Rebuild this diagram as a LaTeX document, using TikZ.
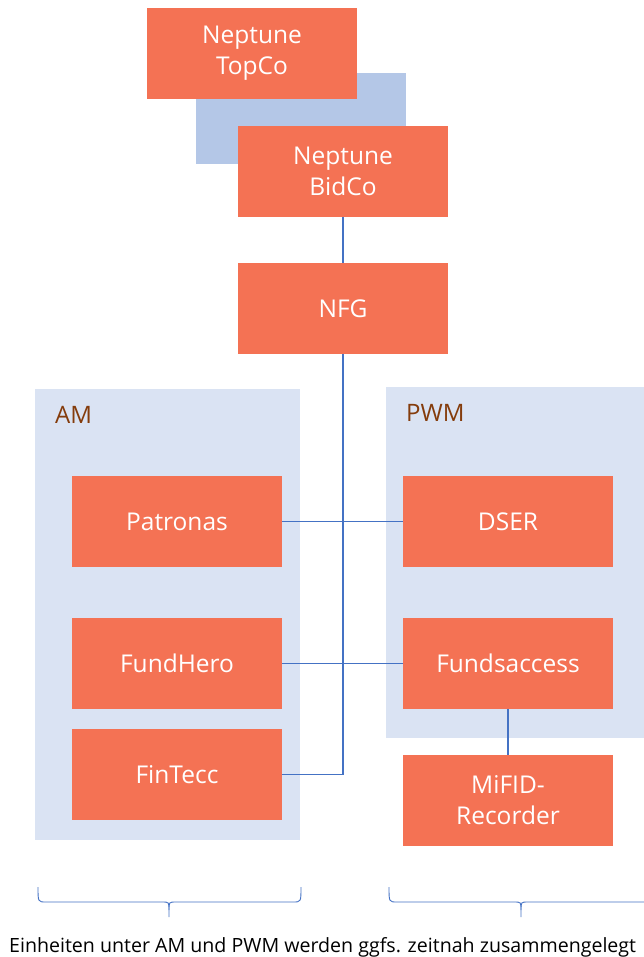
\documentclass[tikz,border=0pt]{standalone}
\usepackage{fontspec}
\setmainfont{Open Sans}
\usepackage{tikz}

\definecolor{boxorange}{HTML}{F47254}
\definecolor{groupblue}{HTML}{DAE3F3}
\definecolor{backblue}{HTML}{B4C7E7}
\definecolor{linkblue}{HTML}{4472C4}
\definecolor{labelbrown}{HTML}{843C0C}

\tikzset{
	unit/.style={fill=boxorange, text=white, minimum width=210pt, minimum height=91pt,
		inner sep=0pt, align=center, font=\fontsize{24.5}{31}\selectfont},
	group/.style={fill=groupblue, inner sep=0pt},
	grouplabel/.style={text=labelbrown, anchor=base west, inner sep=0pt,
		font=\fontsize{24}{28}\selectfont},
	link/.style={draw=linkblue, line width=1.2pt},
	bracket/.style={draw=linkblue, line width=0.9pt}
}

\begin{document}
\begin{tikzpicture}[x=1pt, y=-1pt]
	\useasboundingbox (0,0) rectangle (644,957);
	
	% holding structure at the top
	\node[fill=backblue, minimum width=210pt, minimum height=91pt, inner sep=0pt] (back) at (301,118.5) {};
	\node[unit] (topco) at (252,53.5) {Neptune\\TopCo};
	\node[unit] (bidco) at (343,171.5) {Neptune\\BidCo};
	\node[unit] (nfg) at (343,308.5) {NFG};
	
	% business groups
	\node[group, minimum width=265pt, minimum height=451pt] (am) at (167.5,614.5) {};
	\node[group, minimum width=258pt, minimum height=351pt] (pwm) at (515,562.5) {};
	\node[grouplabel] (amlabel) at (55,423) {AM};
	\node[grouplabel] (pwmlabel) at (406,421) {PWM};
	
	\node[unit] (patronas) at (177,521.5) {Patronas};
	\node[unit] (fundhero) at (177,663.5) {FundHero};
	\node[unit] (fintecc) at (177,774.5) {FinTecc};
	\node[unit] (dser) at (508,521.5) {DSER};
	\node[unit] (fundsaccess) at (508,663.5) {Fundsaccess};
	\node[unit] (mifid) at (508,800.5) {MiFID-\\Recorder};
	
	% connectors
	\draw[link] (bidco) -- (nfg);
	\draw[link] (nfg.south) |- (fintecc.east);
	\draw[link] (patronas) -- (dser);
	\draw[link] (fundhero) -- (fundsaccess);
	\draw[link] (fundsaccess) -- (mifid);
	
	% brackets below the groups
	\draw[bracket] (38,887) .. controls (38,902) .. (46,902) -- (162,902)
		.. controls (169,902) .. (169,910) -- (169,917);
	\draw[bracket] (169,910) .. controls (169,902) .. (176,902) -- (293,902)
		.. controls (301,902) .. (301,887);
	\draw[bracket] (389,887) .. controls (389,902) .. (397,902) -- (514,902)
		.. controls (521,902) .. (521,910) -- (521,917);
	\draw[bracket] (521,910) .. controls (521,902) .. (528,902) -- (648,902);
	
	\node[anchor=base west, inner sep=0pt, font=\fontsize{19.6}{22}\selectfont] (note) at (9,952)
		{Einheiten unter AM und PWM werden ggfs. zeitnah zusammengelegt};
\end{tikzpicture}
\end{document}
